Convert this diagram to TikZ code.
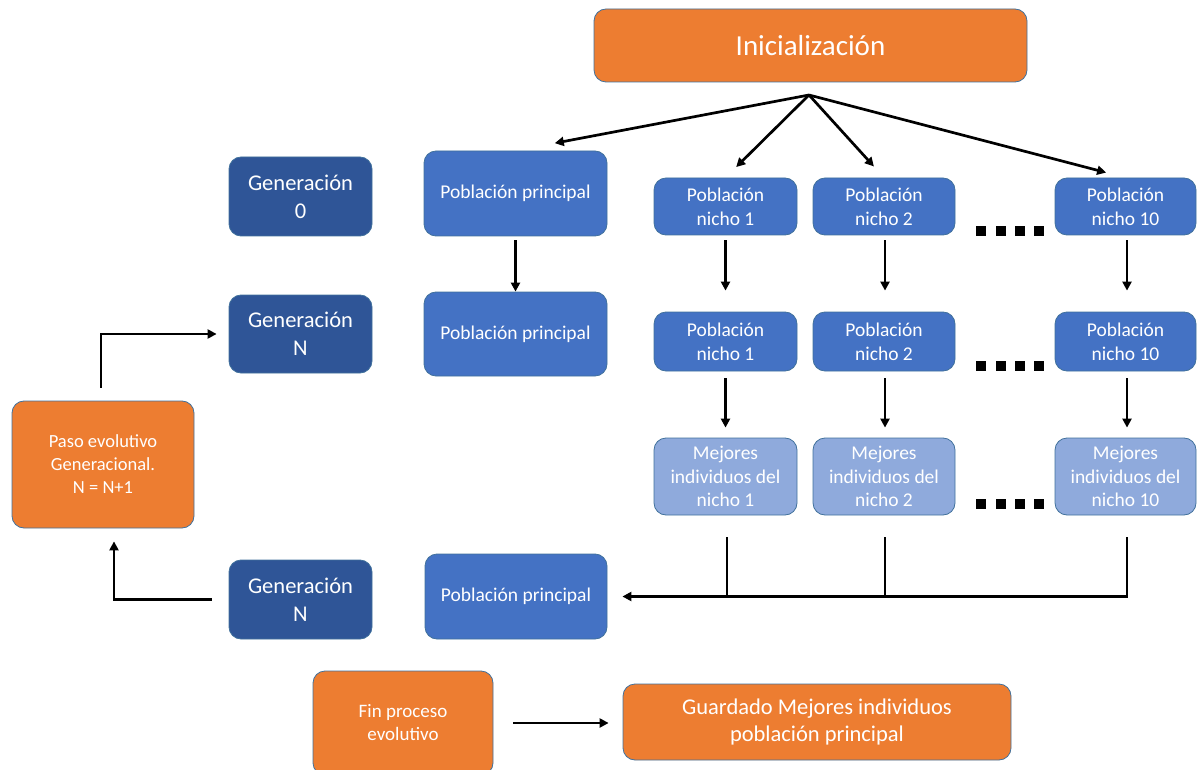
\documentclass[tikz,border=0pt]{standalone}
\usepackage{fontspec}
\setmainfont{Carlito}
\usetikzlibrary{arrows.meta,calc}
\definecolor{cOrange}{HTML}{ED7D31}
\definecolor{cDark}{HTML}{2F5597}
\definecolor{cBlue}{HTML}{4472C4}
\definecolor{cLight}{HTML}{8FAADC}
\definecolor{cEdge}{HTML}{41719C}
\tikzset{
  box/.style={draw=cEdge, line width=0.8pt, rounded corners=12pt, text=white, align=center, inner sep=0pt},
  orangebox/.style={box, fill=cOrange},
  genbox/.style={box, fill=cDark, font=\fontsize{22.5}{28}\selectfont},
  popbox/.style={box, fill=cBlue, font=\fontsize{19.5}{24}\selectfont},
  bestbox/.style={box, fill=cLight, font=\fontsize{19.5}{23.5}\selectfont},
  arr/.style={line width=2.7pt, -{Triangle[length=9pt,width=9pt]}},
  ln/.style={line width=2.7pt},
  sq/.style={fill=black, minimum size=10pt, inner sep=0pt}
}
\begin{document}
\begin{tikzpicture}[x=1pt,y=-1pt]
\useasboundingbox (0,0) rectangle (1197,770);

% top
\node[orangebox, minimum width=433, minimum height=73, font=\fontsize{29}{32}\selectfont] (ini) at (810.5,45.5) {Inicialización};
\coordinate (apex) at (809,95);

% generation labels
\node[genbox, minimum width=143, minimum height=79] (g0) at (300.5,196.5) {Generación\\0};
\node[genbox, minimum width=143, minimum height=78] (gN1) at (300.5,334) {Generación\\N};
\node[genbox, minimum width=143, minimum height=79] (gN2) at (300.5,599.5) {Generación\\N};

% main population
\node[popbox, minimum width=183, minimum height=85] (pp1) at (515.5,193.5) {Población principal};
\node[popbox, minimum width=183, minimum height=84] (pp2) at (515.5,334) {Población principal};
\node[popbox, minimum width=182, minimum height=85] (pp3) at (516,596.5) {Población principal};

% niche populations
\node[popbox, minimum width=143, minimum height=57] (n11) at (725.5,206.5) {Población\\nicho 1};
\node[popbox, minimum width=142, minimum height=57] (n12) at (884,206.5) {Población\\nicho 2};
\node[popbox, minimum width=141, minimum height=57] (n1A) at (1125.5,206.5) {Población\\nicho 10};
\node[popbox, minimum width=143, minimum height=59] (n21) at (725.5,341.5) {Población\\nicho 1};
\node[popbox, minimum width=142, minimum height=59] (n22) at (884,341.5) {Población\\nicho 2};
\node[popbox, minimum width=141, minimum height=59] (n2A) at (1125.5,341.5) {Población\\nicho 10};
\node[bestbox, minimum width=143, minimum height=77] (n31) at (725.5,476.5) {Mejores\\individuos del\\nicho 1};
\node[bestbox, minimum width=142, minimum height=77] (n32) at (884,476.5) {Mejores\\individuos del\\nicho 2};
\node[bestbox, minimum width=141, minimum height=77] (n3A) at (1125.5,476.5) {Mejores\\individuos del\\nicho 10};

% ellipsis squares
\foreach \r/\yy in {1/231,2/366,3/504}{
  \foreach \k/\xx in {1/981,2/1000.5,3/1019.5,4/1038.5}{
    \node[sq] (d\r\k) at (\xx,\yy) {};
  }
}

% loop and final steps
\node[orangebox, minimum width=182, minimum height=127, font=\fontsize{18.5}{23}\selectfont] (paso) at (103,464.5) {Paso evolutivo\\Generacional.\\N = N+1};
\node[orangebox, minimum width=180, minimum height=104, font=\fontsize{19}{23}\selectfont] (fin) at (403,723) {Fin proceso\\evolutivo};
\node[orangebox, minimum width=388, minimum height=76, font=\fontsize{22.5}{27}\selectfont] (guard) at (817,722) {Guardado Mejores individuos\\población principal};

% fan-out from initialisation
\draw[arr, shorten >=40pt] (apex) -- (pp1.north);
\draw[arr, shorten >=15pt] (apex) -- (n11.north);
\draw[arr, shorten >=15pt] (apex) -- (n12.north);
\draw[arr, shorten >=20pt] (apex) -- (n1A.north);

% generation step arrows
\draw[arr, shorten <=4pt] (pp1.south) -- (pp2.north);
\draw[arr, shorten <=5pt, shorten >=21pt] (n11.south) -- (n21.north);
\draw[arr, shorten <=5pt, shorten >=21pt] ([xshift=1pt]n12.south) -- ([xshift=1pt]n22.north);
\draw[arr, shorten <=5pt, shorten >=21pt] ([xshift=1.5pt]n1A.south) -- ([xshift=1.5pt]n2A.north);
\draw[arr, shorten <=7pt, shorten >=10pt] (n21.south) -- (n31.north);
\draw[arr, shorten <=7pt, shorten >=10pt] ([xshift=1pt]n22.south) -- ([xshift=1pt]n32.north);
\draw[arr, shorten <=7pt, shorten >=10pt] ([xshift=1.5pt]n2A.south) -- ([xshift=1.5pt]n3A.north);

% merge of best individuals into the main population
\draw[ln] ([xshift=1.5pt,yshift=-22pt]n31.south) -- ([xshift=1.5pt]n31.south |- pp3.east);
\draw[ln] ([xshift=1pt,yshift=-22pt]n32.south) -- ([xshift=1pt]n32.south |- pp3.east);
\draw[arr] ([xshift=1.5pt,yshift=-22pt]n3A.south) |- ([xshift=15pt]pp3.east);

% evolutionary loop
\draw[arr] ([xshift=-17pt]gN2.west) -| ([xshift=11pt,yshift=-13pt]paso.south);
\draw[arr] ([xshift=-2pt,yshift=13pt]paso.north) |- ([xshift=-12pt]gN1.west);

% final save
\draw[arr, shorten >=14pt] ([xshift=20pt]fin.east) -- (guard.west |- fin.east);
\end{tikzpicture}
\end{document}
